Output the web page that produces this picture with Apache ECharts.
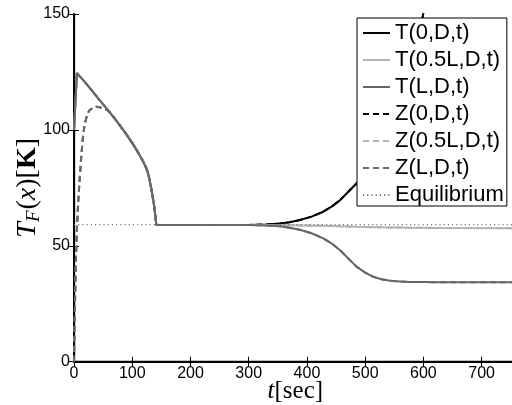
<!DOCTYPE html>
<html><head><meta charset="utf-8">
<script src="https://cdn.jsdelivr.net/npm/echarts@6/dist/echarts.min.js"></script>
<style>html,body{margin:0;padding:0;background:#fff}#c{width:512px;height:405px}</style>
</head><body><div id="c"></div>
<script>
// ---- data ----
const seriesNames = ['T(0,D,t)', 'T(0.5L,D,t)', 'T(L,D,t)', 'Z(0,D,t)', 'Z(0.5L,D,t)', 'Z(L,D,t)', 'Equilibrium'];
const xTicks = [0, 100, 200, 300, 400, 500, 600, 700];
const yTicks = [0, 50, 100, 150];

// common times for the T curves (sec)
const tT = [0, 5, 20, 44, 60, 72, 86, 100, 110, 118, 124, 128, 132, 135, 138, 140, 141.5,
            200, 300, 330, 354, 370, 388, 408, 428, 443, 457, 471, 485, 500, 514, 528, 543, 560, 577, 600, 620, 760];
const T0 = [100, 124.5, 120.3, 112.8, 108, 104.2, 99.5, 94.4, 90.3, 86.7, 83.6, 80.6, 75.6, 71.3, 66.5, 62, 59.0,
            59.0, 59.0, 59.2, 59.6, 60.2, 61.1, 62.6, 64.7, 67.0, 69.7, 73.3, 76.9, 81.5, 86, 91, 97, 106, 118, 150.5, 185, 300];
const T05 = [100, 124.5, 120.3, 112.8, 108, 104.2, 99.5, 94.4, 90.3, 86.7, 83.6, 80.6, 75.6, 71.3, 66.5, 62, 59.0,
            59.0, 59.0, 58.95, 58.9, 58.85, 58.8, 58.7, 58.6, 58.5, 58.4, 58.3, 58.2, 58.1, 58.0, 57.95, 57.9, 57.85, 57.8, 57.75, 57.7, 57.6];
const TL = [100, 124.5, 120.3, 112.8, 108, 104.2, 99.5, 94.4, 90.3, 86.7, 83.6, 80.6, 75.6, 71.3, 66.5, 62, 59.0,
            59.0, 59.0, 58.8, 58.4, 57.8, 56.9, 55.4, 53.2, 50.9, 48.1, 44.5, 41.0, 38.4, 36.6, 35.6, 34.9, 34.6, 34.4, 34.35, 34.3, 34.3];

// early rise of the Z curves (they then coincide with T from t = 60)
const tZearly = [0, 1.5, 3, 5, 7, 9, 12, 15, 18, 22, 26, 32, 38, 44, 50, 56];
const Zearly = [0, 22, 42, 57, 68, 76, 87, 96, 102, 106, 108.3, 109.6, 110, 109.8, 109.3, 108.7];

const tEq = [0, 760];
const Eq = [59.1, 59.1];

// ---- build ----
function pairs(ts, vs) { return ts.map((t, i) => [t, vs[i]]); }
function zData(Tvals) {
  const late = pairs(tT, Tvals).filter(p => p[0] >= 60);
  return pairs(tZearly, Zearly).concat(late);
}
const cBlack = '#000000', cLight = '#b3b3b3', cGray = '#666666';
function line(name, data, color, type) {
  return { name, type: 'line', data, symbol: 'none', showSymbol: false, animation: false,
           lineStyle: { color, width: 2, type: type, cap: 'butt' }, itemStyle: { color } };
}
const dash = [6, 4];
const series = [
  line(seriesNames[0], pairs(tT, T0), cBlack, 'solid'),
  line(seriesNames[1], pairs(tT, T05), cLight, 'solid'),
  line(seriesNames[2], pairs(tT, TL), cGray, 'solid'),
  line(seriesNames[3], zData(T0), cBlack, dash),
  line(seriesNames[4], zData(T05), cLight, dash),
  line(seriesNames[5], zData(TL), cGray, dash),
  { name: seriesNames[6], type: 'line', data: pairs(tEq, Eq), symbol: 'none', animation: false,
    lineStyle: { color: '#777777', width: 1.3, type: [1.2, 3] }, itemStyle: { color: '#777777' } }
];

const chart = echarts.init(document.getElementById('c'), null, { renderer: 'canvas' });
const lblFont = 'Liberation Sans, Arial, sans-serif';
const serif = 'Liberation Serif, Times New Roman, serif';
chart.setOption({
  animation: false,
  backgroundColor: '#fff',
  grid: { left: 74, top: 14, width: 442.6, height: 347.7, outerBoundsMode: 'none', containLabel: false },
  legend: {
    orient: 'vertical', left: 357, top: 18, padding: [4, 3, 0, 5],
    itemWidth: 27, itemHeight: 22, itemGap: 5,
    backgroundColor: '#fff', borderColor: '#000', borderWidth: 1, borderRadius: 0,
    itemStyle: { opacity: 0 },
    textStyle: { fontSize: 22, fontFamily: lblFont, color: '#000', lineHeight: 22 },
    data: seriesNames
  },
  xAxis: [
    { type: 'value', position: 'bottom', min: 0, max: 760, interval: 100,
      axisLine: { show: true, lineStyle: { color: '#000', width: 2 } },
      axisTick: { inside: true, length: 5, lineStyle: { color: '#000', width: 1 } },
      axisLabel: { fontSize: 16, fontFamily: lblFont, color: '#000', margin: 4, showMaxLabel: false,
                   formatter: v => xTicks.includes(v) ? String(v) : '' },
      splitLine: { show: false },
      name: '{i|t}{n|[sec]}', nameLocation: 'middle', nameGap: 17, nameMoveOverlap: false,
      nameTextStyle: { fontFamily: serif, fontSize: 25, color: '#000',
        rich: { i: { fontStyle: 'italic', fontFamily: serif, fontSize: 25 }, n: { fontFamily: serif, fontSize: 25 } } }
    },
    { type: 'value', position: 'top', min: 0, max: 760, interval: 100,
      axisLine: { show: true, lineStyle: { color: '#000', width: 1.3 } },
      axisTick: { inside: true, length: 5, lineStyle: { color: '#000', width: 1 } },
      axisLabel: { show: false }, splitLine: { show: false } }
  ],
  yAxis: [
    { type: 'value', position: 'left', min: 0, max: 150, interval: 50,
      axisLine: { show: true, lineStyle: { color: '#000', width: 2 } },
      axisTick: { inside: true, length: 5, lineStyle: { color: '#000', width: 1 } },
      axisLabel: { fontSize: 16, fontFamily: lblFont, color: '#000', margin: 4,
                   formatter: v => yTicks.includes(v) ? String(v) : '' },
      splitLine: { show: false },
      name: '{i|T}{s|F}{n|(}{i|x}{n|)}{n|[}{b|K}{n|]}', nameLocation: 'middle', nameGap: 31, nameRotate: 90,
      nameMoveOverlap: false,
      nameTextStyle: { fontFamily: serif, fontSize: 28, color: '#000',
        rich: {
          i: { fontStyle: 'italic', fontFamily: serif, fontSize: 28 },
          s: { fontStyle: 'italic', fontFamily: serif, fontSize: 19, padding: [12, 1, 0, 0] },
          n: { fontFamily: serif, fontSize: 28 },
          b: { fontWeight: 'bold', fontFamily: serif, fontSize: 28 }
        } }
    },
    { type: 'value', position: 'right', min: 0, max: 150, interval: 50,
      axisLine: { show: true, lineStyle: { color: '#000', width: 1.3 } },
      axisTick: { inside: true, length: 5, lineStyle: { color: '#000', width: 1 } },
      axisLabel: { show: false }, splitLine: { show: false } }
  ],
  series: series
});
</script>
</body></html>
